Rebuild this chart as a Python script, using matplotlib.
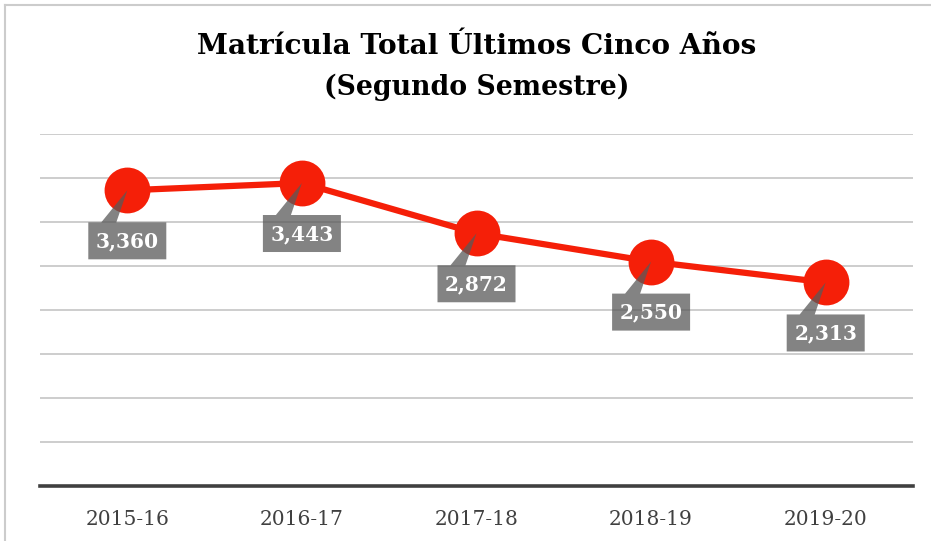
import numpy as np
import matplotlib
matplotlib.use('Agg')
from matplotlib import pyplot as plt
from matplotlib.lines import Line2D
from matplotlib.patches import Polygon
import matplotlib.transforms as mtransforms

# chart data
years = ['2015-16', '2016-17', '2017-18', '2018-19', '2019-20']
matricula = [3360, 3443, 2872, 2550, 2313]
label_text = ['3,360', '3,443', '2,872', '2,550', '2,313']

title_1 = 'Matrícula Total Últimos Cinco Años'
title_2 = '(Segundo Semestre)'

RED = '#F51F08'
BOX_GRAY = '#595959'
GRID_GRAY = '#C9C9C9'
AXIS_DARK = '#404040'

# callout shape in pixel offsets from the data point (box below, notch pointing up)
callout_shape = [(0, 0), (-11, -32), (39, -32), (39, -69), (-39, -69),
                 (-39, -32), (-26, -32)]

W, H = 931, 541
fig = plt.figure(figsize=(W / 100, H / 100), dpi=100)
plt.rcParams['font.family'] = 'DejaVu Serif'

# outer chart frame (only top and left edges are visible in the crop)
fig.add_artist(Line2D([5 / W, 5 / W], [0, 1 - 5 / H], color='#CCCCCC', lw=1.5,
                      transform=fig.transFigure))
fig.add_artist(Line2D([5 / W, 1], [1 - 5 / H, 1 - 5 / H], color='#CCCCCC', lw=1.5,
                      transform=fig.transFigure))

# title
fig.text(477 / W, 1 - 47 / H, title_1, ha='center', va='center',
         fontsize=20.2, fontweight='bold', color='black')
fig.text(477 / W, 1 - 87 / H, title_2, ha='center', va='center',
         fontsize=19.3, fontweight='bold', color='black')

left, right = 40 / W, 913 / W
bottom, top = 1 - 486 / H, 1 - 134 / H
ax = fig.add_axes([left, bottom, right - left, top - bottom])

x = np.arange(len(years))
ax.set_xlim(-0.5, len(years) - 0.5)
ax.set_ylim(0, 4000)
ax.set_yticks(np.arange(500, 4001, 500))
ax.yaxis.grid(True, color=GRID_GRAY, lw=1.3)
ax.set_axisbelow(True)
ax.tick_params(axis='y', left=False, labelleft=False)
ax.set_xticks(x)
ax.set_xticklabels(years, fontsize=14.5, color=AXIS_DARK)
ax.tick_params(axis='x', length=0, pad=17)

for side in ['top', 'right', 'left']:
    ax.spines[side].set_visible(False)
ax.spines['bottom'].set_color(AXIS_DARK)
ax.spines['bottom'].set_linewidth(2.6)

ax.plot(x, matricula, color=RED, lw=4.5, marker='o', markersize=33,
        markeredgewidth=0, clip_on=False, zorder=3)

# callout labels below each point
for xi, yi, txt in zip(x, matricula, label_text):
    trans = mtransforms.IdentityTransform() + \
        mtransforms.ScaledTranslation(xi, yi, ax.transData)
    ax.add_patch(Polygon(callout_shape, closed=True, fc=BOX_GRAY, ec='none',
                         alpha=0.75, transform=trans, clip_on=False, zorder=5))
    ax.annotate(txt, xy=(xi, yi), xytext=(0, -51), textcoords='offset pixels',
                ha='center', va='center', fontsize=14.5, fontweight='bold',
                color='white', zorder=6)

fig.savefig('out.png', dpi=100)
